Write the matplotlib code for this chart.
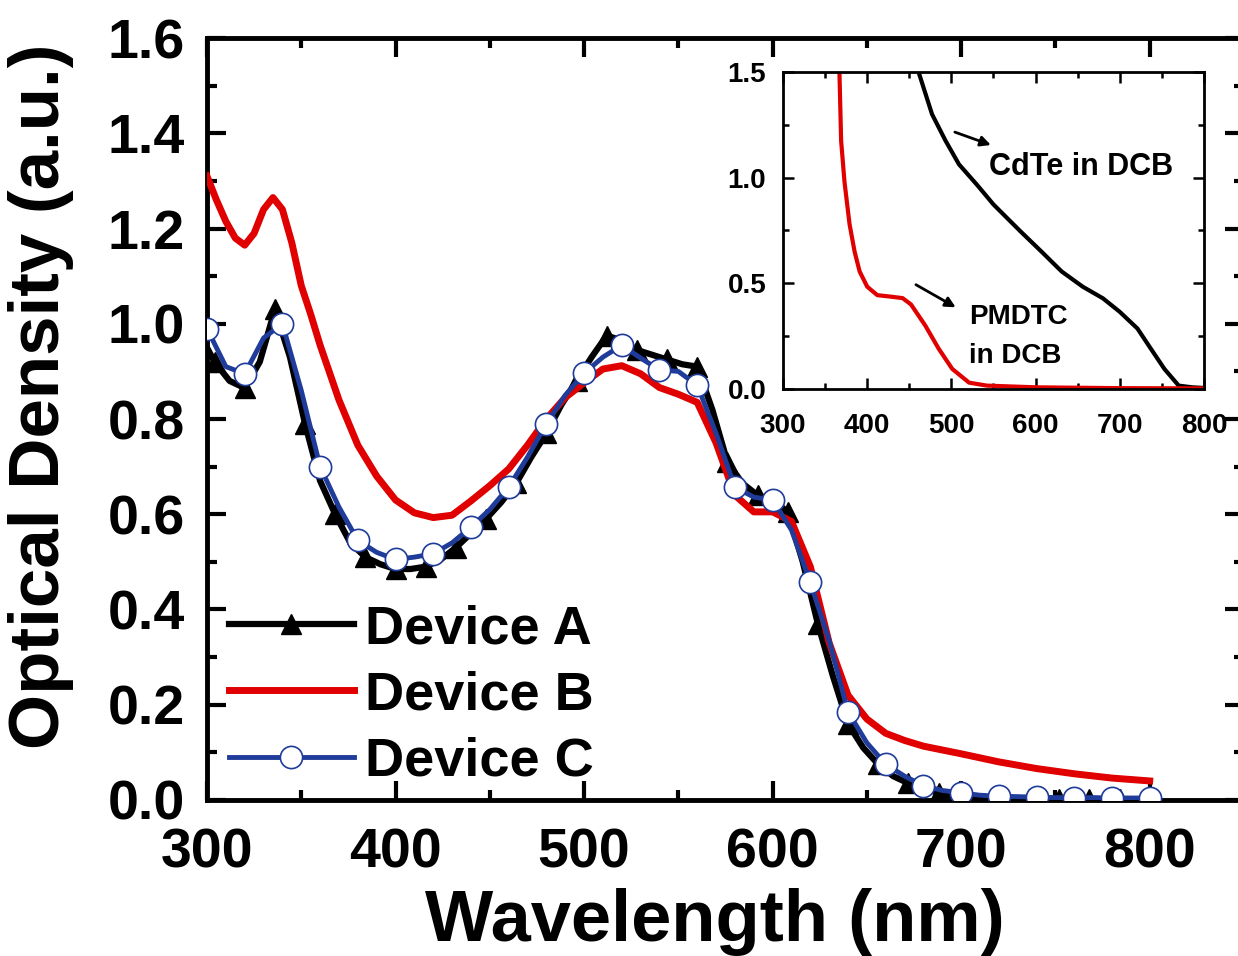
import matplotlib
matplotlib.use("Agg")
from matplotlib import pyplot as plt
from matplotlib.ticker import MultipleLocator, FormatStrFormatter

plt.rcParams['font.family'] = ['Liberation Sans', 'DejaVu Sans']
plt.rcParams['font.weight'] = 'bold'

# Device A (black, triangles) - every 8 nm from 304, plus 300
wl_a = [300] + list(range(304, 801, 8))
od_a = [0.95, 0.92, 0.88, 0.865, 0.92, 1.03, 0.93, 0.79, 0.67, 0.60, 0.54,
        0.51, 0.495, 0.485, 0.485, 0.49, 0.505, 0.53, 0.56, 0.59, 0.625,
        0.665, 0.72, 0.77, 0.83, 0.88, 0.93, 0.975, 0.965, 0.945, 0.935,
        0.925, 0.915, 0.91, 0.82, 0.71, 0.665, 0.64, 0.63, 0.605, 0.50,
        0.37, 0.26, 0.16, 0.11, 0.075, 0.05, 0.035, 0.025, 0.015, 0.008,
        0.004, 0.003, 0.003, 0.002, 0.002, 0.002, 0.002, 0.002, 0.002,
        0.002, 0.002, 0.002, 0.002]

# Device B (red)
wl_b = [300, 305, 310, 315, 320, 325, 330, 335, 340, 345, 350, 355, 360,
        370, 380, 390, 400, 410, 420, 430, 440, 450, 460, 470, 480, 490,
        500, 510, 520, 530, 540, 550, 560, 570, 580, 590, 600, 610, 620,
        630, 640, 650, 660, 670, 680, 690, 700, 720, 740, 760, 780, 800]
od_b = [1.31, 1.26, 1.215, 1.18, 1.165, 1.19, 1.24, 1.265, 1.24, 1.17, 1.08,
        1.02, 0.955, 0.84, 0.745, 0.68, 0.63, 0.603, 0.593, 0.598, 0.628,
        0.66, 0.695, 0.745, 0.80, 0.845, 0.876, 0.905, 0.912, 0.895, 0.866,
        0.852, 0.835, 0.75, 0.64, 0.605, 0.605, 0.585, 0.49, 0.33, 0.22,
        0.17, 0.14, 0.125, 0.113, 0.105, 0.097, 0.08, 0.066, 0.055, 0.046,
        0.04]

# Device C (blue, circles every 20 nm)
wl_c = list(range(300, 801, 10))
od_c = [0.99, 0.91, 0.895, 0.97, 1.0, 0.86, 0.70, 0.615, 0.545, 0.52,
        0.505, 0.51, 0.517, 0.54, 0.573, 0.61, 0.657, 0.72, 0.79, 0.85,
        0.896, 0.93, 0.955, 0.928, 0.903, 0.90, 0.871, 0.77, 0.657, 0.636,
        0.63, 0.567, 0.457, 0.335, 0.185, 0.12, 0.075, 0.05, 0.03, 0.02,
        0.015, 0.01, 0.008, 0.007, 0.006, 0.005, 0.005, 0.005, 0.004,
        0.004, 0.004]

# inset: solutions
wl_pm = [364, 367, 369, 373, 379, 385, 391, 400, 412, 428, 442, 452, 469,
         485, 501, 521, 542, 600, 700, 800]
od_pm = [1.7, 1.5, 1.175, 0.98, 0.78, 0.65, 0.556, 0.484, 0.444, 0.437,
         0.43, 0.40, 0.30, 0.19, 0.095, 0.03, 0.016, 0.008, 0.004, 0.003]
wl_cd = [455, 461, 477, 493, 509, 530, 550, 582, 607, 631, 656, 680, 700,
         721, 737, 753, 770, 786, 800]
od_cd = [1.6, 1.5, 1.30, 1.175, 1.063, 0.968, 0.873, 0.746, 0.65, 0.556,
         0.484, 0.429, 0.365, 0.286, 0.19, 0.095, 0.016, 0.008, 0.005]

fig = plt.figure(figsize=(12.38, 9.56), dpi=100)
ax = fig.add_axes([0.1672, 0.1632, 0.8376, 0.797])

ax.plot(wl_a, od_a, color='black', lw=4.5, marker='^', ms=14,
        markevery=slice(1, None, 2), label='Device A', zorder=2)
ax.plot(wl_b, od_b, color='#e00000', lw=5, label='Device B', zorder=3)
ax.plot(wl_c, od_c, color='#1f3c9a', lw=3.5, marker='o', ms=16,
        mfc='white', mec='#1f3c9a', mew=1.2, markevery=2,
        label='Device C', zorder=4)

ax.set_xlim(300, 850)
ax.set_ylim(0, 1.6)
ax.xaxis.set_major_locator(MultipleLocator(100))
ax.xaxis.set_minor_locator(MultipleLocator(50))
ax.yaxis.set_major_locator(MultipleLocator(0.2))
ax.yaxis.set_minor_locator(MultipleLocator(0.1))
ax.yaxis.set_major_formatter(FormatStrFormatter('%.1f'))
ax.tick_params(which='both', direction='in', top=True, right=True, width=3)
ax.tick_params(which='major', length=14, labelsize=40, pad=16)
ax.tick_params(which='minor', length=7)
ax.tick_params(axis='x', which='major', pad=20)
for s in ax.spines.values():
    s.set_linewidth(3.5)

ax.set_xlabel('Wavelength (nm)', fontsize=52, fontweight='bold')
ax.set_ylabel('Optical Density (a.u.)', fontsize=51, fontweight='bold')
ax.yaxis.set_label_coords(-0.128, 0.53)
ax.xaxis.set_label_coords(0.49, -0.115)

ax.legend(loc='lower left', bbox_to_anchor=(-0.01, -0.025), frameon=False,
          fontsize=39, handlelength=2.3, handletextpad=0.2,
          labelspacing=0.3, borderaxespad=0.2)

# inset
ins = fig.add_axes([0.6325, 0.5931, 0.340, 0.3316])
ins.plot(wl_cd, od_cd, color='black', lw=3)
ins.plot(wl_pm, od_pm, color='#e00000', lw=3)
ins.set_xlim(300, 800)
ins.set_ylim(0, 1.5)
ins.xaxis.set_major_locator(MultipleLocator(100))
ins.xaxis.set_minor_locator(MultipleLocator(50))
ins.yaxis.set_major_locator(MultipleLocator(0.5))
ins.yaxis.set_minor_locator(MultipleLocator(0.25))
ins.yaxis.set_major_formatter(FormatStrFormatter('%.1f'))
ins.tick_params(which='both', direction='in', top=True, right=True, width=1.8)
ins.tick_params(which='major', length=8, labelsize=20, pad=12)
ins.tick_params(which='minor', length=4)
ins.tick_params(axis='x', which='major', pad=17)
for s in ins.spines.values():
    s.set_linewidth(2)

ins.annotate('', xy=(550, 1.15), xytext=(501, 1.22),
             arrowprops=dict(arrowstyle='-|>', color='black', lw=2,
                             mutation_scale=15))
ins.text(545, 1.05, 'CdTe in DCB', fontsize=22, fontweight='bold',
         va='center', ha='left')
ins.annotate('', xy=(508, 0.38), xytext=(455, 0.5),
             arrowprops=dict(arrowstyle='-|>', color='black', lw=2,
                             mutation_scale=15))
ins.text(521, 0.34, 'PMDTC', fontsize=20, fontweight='bold',
         va='center', ha='left')
ins.text(521, 0.155, 'in DCB', fontsize=20, fontweight='bold',
         va='center', ha='left')

fig.savefig('out.png', dpi=100)
